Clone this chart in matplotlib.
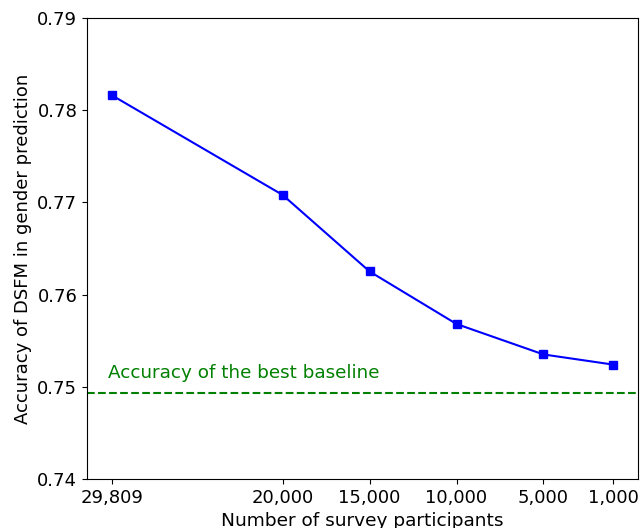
import matplotlib
matplotlib.use("Agg")
import matplotlib.pyplot as plt

participants = [29809, 20000, 15000, 10000, 5000, 1000]
tick_labels = ["29,809", "20,000", "15,000", "10,000", "5,000", "1,000"]
accuracy = [0.7816, 0.7708, 0.7625, 0.7568, 0.7535, 0.7524]
baseline = 0.7493

fig = plt.figure(figsize=(6.4, 5.28), dpi=100)
ax = fig.add_axes([0.136, 0.093, 0.861, 0.873])

ax.plot(participants, accuracy, color="blue", marker="s", markersize=6)
ax.axhline(baseline, color="green", linestyle="--", linewidth=1.5)
ax.text(0.038, 0.7505, "Accuracy of the best baseline", color="green",
        fontsize=13.2, transform=ax.get_yaxis_transform(), va="bottom")

ax.invert_xaxis()
ax.set_xticks(participants)
ax.set_xticklabels(tick_labels)
ax.set_ylim(0.74, 0.79)
ax.set_yticks([0.74, 0.75, 0.76, 0.77, 0.78, 0.79])
ax.tick_params(labelsize=13)
ax.set_xlabel("Number of survey participants", fontsize=13.3, labelpad=4)
ax.set_ylabel("Accuracy of DSFM in gender prediction", fontsize=13)

fig.savefig("out.png", dpi=100)
